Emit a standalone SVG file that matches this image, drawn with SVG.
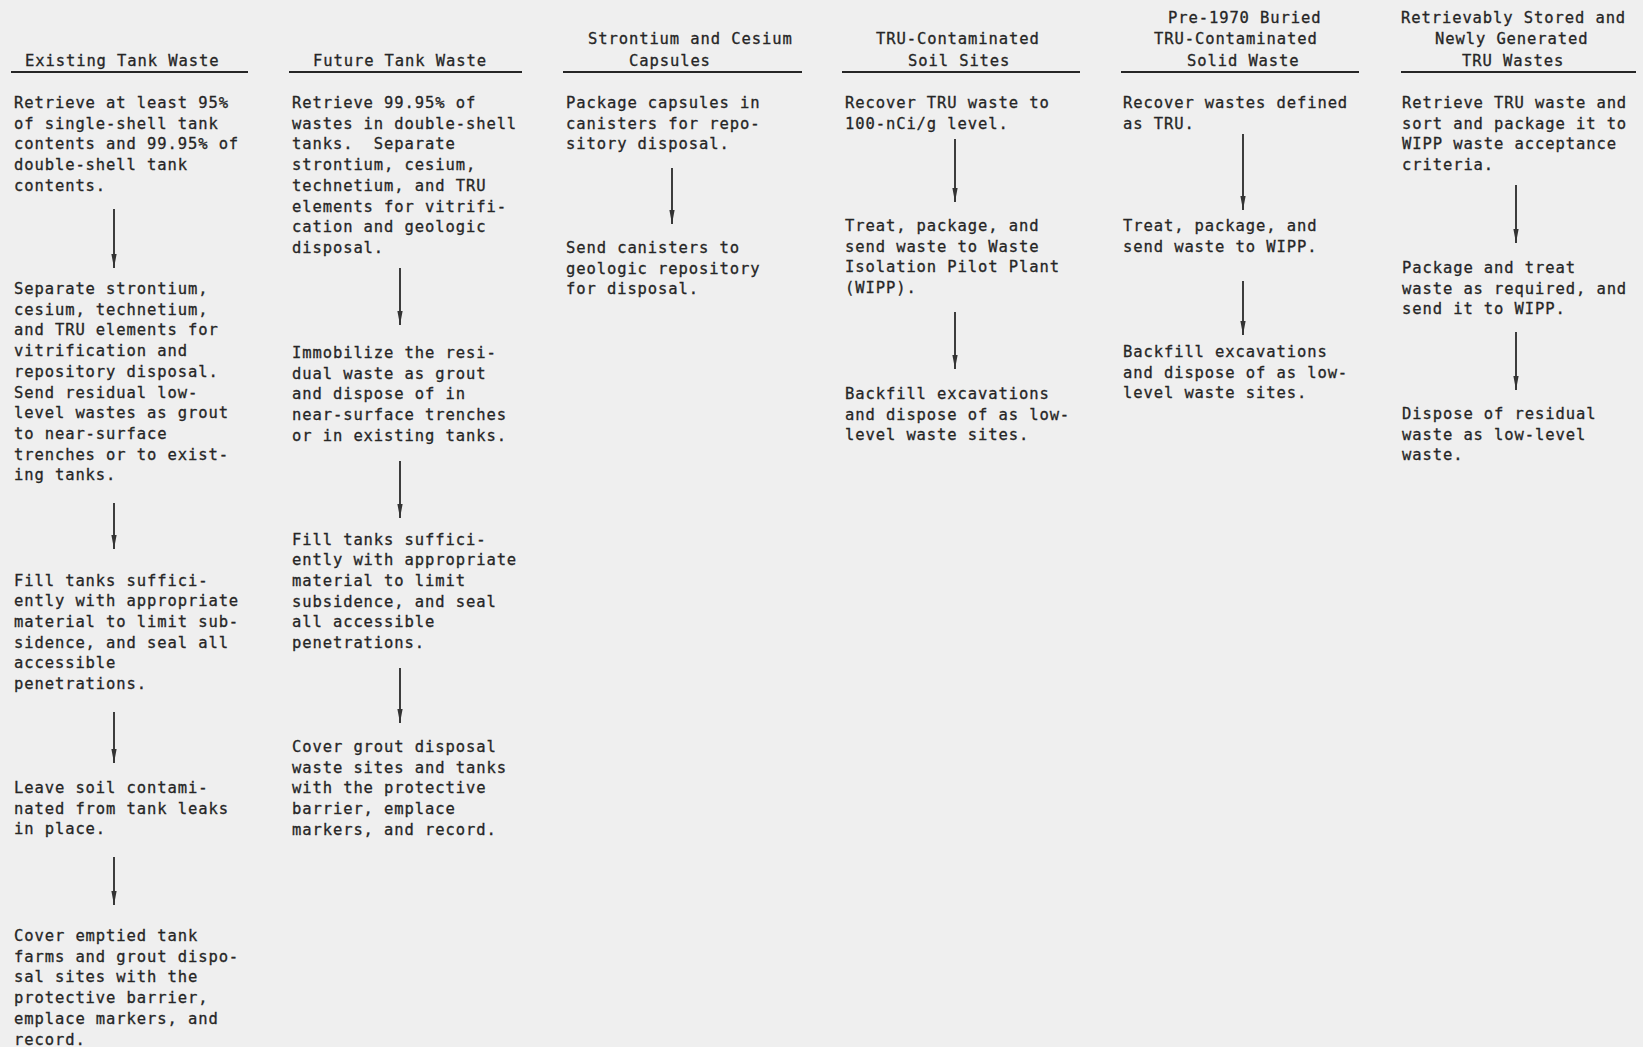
<svg xmlns="http://www.w3.org/2000/svg" width="1643" height="1047" viewBox="0 0 1643 1047">
  <style>
    .t { font-family: "DejaVu Sans Mono", "Liberation Mono", monospace; font-size: 15.5px; letter-spacing: 0.9px; fill: #262626; stroke: #262626; stroke-width: 0.3px; white-space: pre; }
    .rule { stroke: #262626; stroke-width: 1.8; }
    .arrow { stroke: #333333; stroke-width: 1.9; fill: none; marker-end: url(#head); }
  </style>
  <defs>
    <marker id="head" viewBox="0 -3 14 6" refX="14" refY="0" markerWidth="14" markerHeight="6" markerUnits="userSpaceOnUse" orient="auto">
      <path d="M0,-2.6 L14,0 L0,2.6 z" fill="#333333"/>
    </marker>
  </defs>
  <rect width="1643" height="1047" fill="#efefef"/>

  <!-- column headings -->
  <g id="head-existing">
    <text class="t" x="25" y="66">Existing Tank Waste</text>
    <line class="rule" x1="11" y1="72" x2="248" y2="72"/>
  </g>
  <g id="head-future">
    <text class="t" x="313" y="66">Future Tank Waste</text>
    <line class="rule" x1="289" y1="72" x2="522" y2="72"/>
  </g>
  <g id="head-capsules">
    <text class="t" x="588" y="44">Strontium and Cesium</text>
    <text class="t" x="629" y="66">Capsules</text>
    <line class="rule" x1="563" y1="72" x2="802" y2="72"/>
  </g>
  <g id="head-soil">
    <text class="t" x="876" y="44">TRU-Contaminated</text>
    <text class="t" x="908" y="66">Soil Sites</text>
    <line class="rule" x1="842" y1="72" x2="1080" y2="72"/>
  </g>
  <g id="head-buried">
    <text class="t" x="1168" y="23">Pre-1970 Buried</text>
    <text class="t" x="1154" y="44">TRU-Contaminated</text>
    <text class="t" x="1187" y="66">Solid Waste</text>
    <line class="rule" x1="1121" y1="72" x2="1359" y2="72"/>
  </g>
  <g id="head-stored">
    <text class="t" x="1401" y="23">Retrievably Stored and</text>
    <text class="t" x="1435" y="44">Newly Generated</text>
    <text class="t" x="1462" y="66">TRU Wastes</text>
    <line class="rule" x1="1401" y1="72" x2="1636" y2="72"/>
  </g>

  <!-- Existing Tank Waste steps -->
  <g id="existing-1">
    <text class="t" x="14" y="108"><tspan x="14">Retrieve at least 95%</tspan><tspan x="14" dy="20.7">of single-shell tank</tspan><tspan x="14" dy="20.7">contents and 99.95% of</tspan><tspan x="14" dy="20.7">double-shell tank</tspan><tspan x="14" dy="20.7">contents.</tspan></text>
  </g>
  <g id="existing-2">
    <text class="t" x="14" y="294"><tspan x="14">Separate strontium,</tspan><tspan x="14" dy="20.7">cesium, technetium,</tspan><tspan x="14" dy="20.7">and TRU elements for</tspan><tspan x="14" dy="20.7">vitrification and</tspan><tspan x="14" dy="20.7">repository disposal.</tspan><tspan x="14" dy="20.7">Send residual low-</tspan><tspan x="14" dy="20.7">level wastes as grout</tspan><tspan x="14" dy="20.7">to near-surface</tspan><tspan x="14" dy="20.7">trenches or to exist-</tspan><tspan x="14" dy="20.7">ing tanks.</tspan></text>
  </g>
  <g id="existing-3">
    <text class="t" x="14" y="585.5"><tspan x="14">Fill tanks suffici-</tspan><tspan x="14" dy="20.7">ently with appropriate</tspan><tspan x="14" dy="20.7">material to limit sub-</tspan><tspan x="14" dy="20.7">sidence, and seal all</tspan><tspan x="14" dy="20.7">accessible</tspan><tspan x="14" dy="20.7">penetrations.</tspan></text>
  </g>
  <g id="existing-4">
    <text class="t" x="14" y="793"><tspan x="14">Leave soil contami-</tspan><tspan x="14" dy="20.7">nated from tank leaks</tspan><tspan x="14" dy="20.7">in place.</tspan></text>
  </g>
  <g id="existing-5">
    <text class="t" x="14" y="941"><tspan x="14">Cover emptied tank</tspan><tspan x="14" dy="20.7">farms and grout dispo-</tspan><tspan x="14" dy="20.7">sal sites with the</tspan><tspan x="14" dy="20.7">protective barrier,</tspan><tspan x="14" dy="20.7">emplace markers, and</tspan><tspan x="14" dy="20.7">record.</tspan></text>
  </g>

  <!-- Future Tank Waste steps -->
  <g id="future-1">
    <text class="t" x="292" y="108"><tspan x="292">Retrieve 99.95% of</tspan><tspan x="292" dy="20.7">wastes in double-shell</tspan><tspan x="292" dy="20.7">tanks.  Separate</tspan><tspan x="292" dy="20.7">strontium, cesium,</tspan><tspan x="292" dy="20.7">technetium, and TRU</tspan><tspan x="292" dy="20.7">elements for vitrifi-</tspan><tspan x="292" dy="20.7">cation and geologic</tspan><tspan x="292" dy="20.7">disposal.</tspan></text>
  </g>
  <g id="future-2">
    <text class="t" x="292" y="358"><tspan x="292">Immobilize the resi-</tspan><tspan x="292" dy="20.7">dual waste as grout</tspan><tspan x="292" dy="20.7">and dispose of in</tspan><tspan x="292" dy="20.7">near-surface trenches</tspan><tspan x="292" dy="20.7">or in existing tanks.</tspan></text>
  </g>
  <g id="future-3">
    <text class="t" x="292" y="544.6"><tspan x="292">Fill tanks suffici-</tspan><tspan x="292" dy="20.7">ently with appropriate</tspan><tspan x="292" dy="20.7">material to limit</tspan><tspan x="292" dy="20.7">subsidence, and seal</tspan><tspan x="292" dy="20.7">all accessible</tspan><tspan x="292" dy="20.7">penetrations.</tspan></text>
  </g>
  <g id="future-4">
    <text class="t" x="292" y="752"><tspan x="292">Cover grout disposal</tspan><tspan x="292" dy="20.7">waste sites and tanks</tspan><tspan x="292" dy="20.7">with the protective</tspan><tspan x="292" dy="20.7">barrier, emplace</tspan><tspan x="292" dy="20.7">markers, and record.</tspan></text>
  </g>

  <!-- Strontium and Cesium Capsules steps -->
  <g id="capsules-1">
    <text class="t" x="566" y="108"><tspan x="566">Package capsules in</tspan><tspan x="566" dy="20.7">canisters for repo-</tspan><tspan x="566" dy="20.7">sitory disposal.</tspan></text>
  </g>
  <g id="capsules-2">
    <text class="t" x="566" y="253"><tspan x="566">Send canisters to</tspan><tspan x="566" dy="20.7">geologic repository</tspan><tspan x="566" dy="20.7">for disposal.</tspan></text>
  </g>

  <!-- TRU-Contaminated Soil Sites steps -->
  <g id="soil-1">
    <text class="t" x="845" y="108"><tspan x="845">Recover TRU waste to</tspan><tspan x="845" dy="20.7">100-nCi/g level.</tspan></text>
  </g>
  <g id="soil-2">
    <text class="t" x="845" y="231"><tspan x="845">Treat, package, and</tspan><tspan x="845" dy="20.7">send waste to Waste</tspan><tspan x="845" dy="20.7">Isolation Pilot Plant</tspan><tspan x="845" dy="20.7">(WIPP).</tspan></text>
  </g>
  <g id="soil-3">
    <text class="t" x="845" y="399"><tspan x="845">Backfill excavations</tspan><tspan x="845" dy="20.7">and dispose of as low-</tspan><tspan x="845" dy="20.7">level waste sites.</tspan></text>
  </g>

  <!-- Pre-1970 Buried Solid Waste steps -->
  <g id="buried-1">
    <text class="t" x="1123" y="108"><tspan x="1123">Recover wastes defined</tspan><tspan x="1123" dy="20.7">as TRU.</tspan></text>
  </g>
  <g id="buried-2">
    <text class="t" x="1123" y="231"><tspan x="1123">Treat, package, and</tspan><tspan x="1123" dy="20.7">send waste to WIPP.</tspan></text>
  </g>
  <g id="buried-3">
    <text class="t" x="1123" y="357"><tspan x="1123">Backfill excavations</tspan><tspan x="1123" dy="20.7">and dispose of as low-</tspan><tspan x="1123" dy="20.7">level waste sites.</tspan></text>
  </g>

  <!-- Retrievably Stored and Newly Generated TRU Wastes steps -->
  <g id="stored-1">
    <text class="t" x="1402" y="108"><tspan x="1402">Retrieve TRU waste and</tspan><tspan x="1402" dy="20.7">sort and package it to</tspan><tspan x="1402" dy="20.7">WIPP waste acceptance</tspan><tspan x="1402" dy="20.7">criteria.</tspan></text>
  </g>
  <g id="stored-2">
    <text class="t" x="1402" y="273"><tspan x="1402">Package and treat</tspan><tspan x="1402" dy="20.7">waste as required, and</tspan><tspan x="1402" dy="20.7">send it to WIPP.</tspan></text>
  </g>
  <g id="stored-3">
    <text class="t" x="1402" y="419"><tspan x="1402">Dispose of residual</tspan><tspan x="1402" dy="20.7">waste as low-level</tspan><tspan x="1402" dy="20.7">waste.</tspan></text>
  </g>

  <!-- step-to-step arrows -->
  <g id="connectors">
    <line class="arrow" x1="114" y1="209" x2="114" y2="268"/>
    <line class="arrow" x1="114" y1="503" x2="114" y2="549"/>
    <line class="arrow" x1="114" y1="712" x2="114" y2="763"/>
    <line class="arrow" x1="114" y1="857" x2="114" y2="905"/>

    <line class="arrow" x1="400" y1="268" x2="400" y2="325"/>
    <line class="arrow" x1="400" y1="461" x2="400" y2="518"/>
    <line class="arrow" x1="400" y1="668" x2="400" y2="723"/>

    <line class="arrow" x1="672" y1="168" x2="672" y2="224"/>

    <line class="arrow" x1="955" y1="139" x2="955" y2="202"/>
    <line class="arrow" x1="955" y1="312" x2="955" y2="369"/>

    <line class="arrow" x1="1243" y1="134" x2="1243" y2="210"/>
    <line class="arrow" x1="1243" y1="281" x2="1243" y2="335"/>

    <line class="arrow" x1="1516" y1="185" x2="1516" y2="243"/>
    <line class="arrow" x1="1516" y1="332" x2="1516" y2="390"/>
  </g>
</svg>
